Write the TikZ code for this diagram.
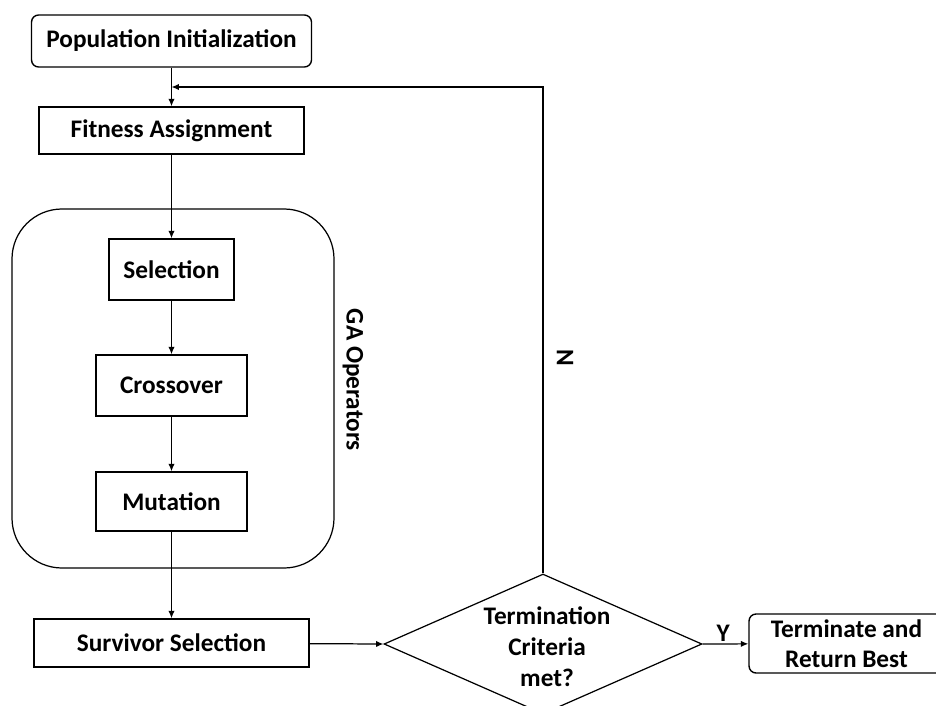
\documentclass[tikz,border=0pt]{standalone}
\usepackage{fontspec}
\setmainfont{Carlito}
\usetikzlibrary{shapes.geometric,arrows.meta}
\tikzset{
	box/.style={draw,line width=0.8pt,inner sep=0pt,font=\bfseries\fontsize{14.4}{17}\selectfont},
	rbox/.style={box,rounded corners=4pt},
	lbl/.style={font=\bfseries\fontsize{14.4}{17}\selectfont},
	link/.style={line width=0.7pt,-{Latex[length=4.2pt,width=3.6pt]}},
}

\begin{document}
\begin{tikzpicture}[x=0.02cm,y=-0.02cm]
	\useasboundingbox (0,0) rectangle (936,706);
	\clip (0,0) rectangle (936,706);

	% GA operators frame
	\draw [line width=0.7pt,rounded corners=1cm] (12,209) rectangle (334,568);
	\node [lbl,rotate=-90] (ga) at (353,380) {GA Operators};

	\node [rbox,minimum width=5.6cm,minimum height=1.04cm] (pop) at (171.5,41) {Population Initialization};
	\node [box,minimum width=5.3cm,minimum height=0.94cm] (fit) at (171.5,130.5) {Fitness Assignment};
	\node [box,minimum width=2.5cm,minimum height=1.22cm] (sel) at (171.5,269.5) {Selection};
	\node [box,minimum width=3.02cm,minimum height=1.22cm] (cro) at (171.5,385.5) {Crossover};
	\node [box,minimum width=3.02cm,minimum height=1.18cm] (mut) at (171.5,501.5) {Mutation};
	\node [box,minimum width=5.5cm,minimum height=0.96cm] (sur) at (171.5,643) {Survivor Selection};

	\node [draw,diamond,line width=0.7pt,inner sep=0pt,minimum width=6.36cm,minimum height=2.8cm] (dia) at (543,644) {};
	\node [lbl,align=center,font=\bfseries\fontsize{14.4}{17.6}\selectfont] (crit) at (547,646.5) {Termination\\Criteria\\met?};

	\node [rbox,align=center,minimum width=3.9cm,minimum height=1.18cm,font=\bfseries\fontsize{14.4}{17}\selectfont] (term) at (846.5,643.5) {Terminate and\\Return Best};

	\coordinate (join) at (171.5,87);

	\draw [link] (pop) -- (fit);
	\draw [link] (fit) -- (sel);
	\draw [link] (sel) -- (cro);
	\draw [link] (cro) -- (mut);
	\draw [link] (mut) -- (sur);
	\draw [link] (sur) -- (dia.west);
	\draw [link] (dia.east) -- node [lbl,above,pos=0.45,inner sep=1pt] (y) {Y} (term);
	\draw [link] (dia.north) |- (join);
	\node [lbl,rotate=-90] (n) at (565,358) {N};
\end{tikzpicture}
\end{document}
